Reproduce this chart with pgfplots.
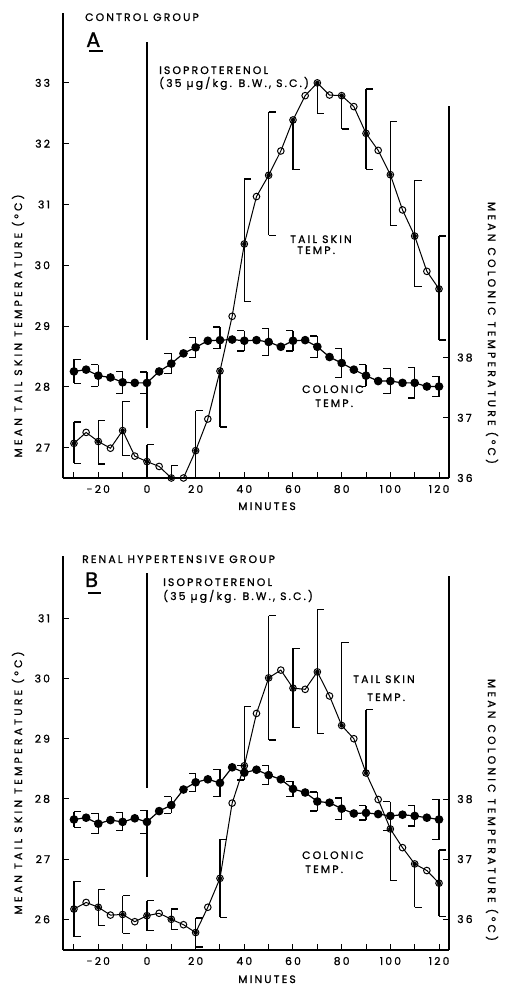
\documentclass[border=0pt]{standalone}
\usepackage{pgfplots}
\usepackage{pgfplotstable}
\pgfplotsset{compat=1.18}
\usepackage{fontspec}
\setmainfont{Poppins}
\newfontfamily\lf[LetterSpace=20, FakeBold=1]{Poppins}
\newfontfamily\lfw[LetterSpace=30, FakeBold=1]{Poppins}
\newcommand\tf{\lf\fontsize{10.8}{12}\selectfont}
\newcommand\tfw{\lfw\fontsize{10.8}{12}\selectfont}

% ---- data: x, value
\pgfplotstableread{
x y
-30 27.07
-25 27.25
-20 27.10
-15 26.99
-10 27.28
-5 26.86
0 26.77
5 26.69
10 26.50
15 26.50
20 26.95
25 27.47
30 28.26
35 29.16
40 30.35
45 31.13
50 31.48
55 31.88
60 32.39
65 32.79
70 33.00
75 32.80
80 32.79
85 32.61
90 32.17
95 31.89
100 31.49
105 30.91
110 30.48
115 29.90
120 29.61
}\tailA
\pgfplotstableread{
x y ep em
-30 27.07 0.35 0.33
-20 27.10 0.34 0.37
-10 27.28 0.48 0.41
0 26.77 0.28 0.27
10 26.50 0.21 0
20 26.95 0.66 0.45
30 28.26 0 0.92
40 30.35 1.07 0.95
50 31.48 1.04 0.99
60 32.39 0 0.82
70 33.00 0 0.51
80 32.79 0 0.55
90 32.17 0.73 0.59
100 31.49 0.87 0.83
110 30.48 0.92 0.83
120 29.61 0.87 0.84
}\tailAe
\pgfplotstableread{
x y
-30 37.77
-25 37.80
-20 37.70
-15 37.67
-10 37.59
-5 37.58
0 37.58
5 37.77
10 37.90
15 38.07
20 38.17
25 38.28
30 38.29
35 38.30
40 38.28
45 38.29
50 38.26
55 38.18
60 38.28
65 38.29
70 38.18
75 38.01
80 37.91
85 37.80
90 37.70
95 37.61
100 37.61
105 37.58
110 37.58
115 37.52
120 37.52
}\colA
\pgfplotstableread{
x y ep em
-20 37.70 0.18 0.18
-10 37.59 0.18 0.18
0 37.58 0.18 0.18
10 37.90 0.17 0.17
20 38.17 0.17 0.17
30 38.29 0.22 0.14
40 38.28 0.17 0.17
50 38.26 0.23 0.23
60 38.28 0.17 0.17
70 38.18 0.18 0.18
80 37.91 0.24 0.24
90 37.70 0.18 0.18
100 37.61 0.21 0.21
110 37.58 0.25 0.25
120 37.52 0.17 0.17
}\colAe
\pgfplotstableread{
x y ep em
-30 37.77 0.20 0.20
}\colAeR
\pgfplotstableread{
x y
-30 26.17
-25 26.28
-20 26.20
-15 26.07
-10 26.08
-5 25.96
0 26.06
5 26.10
10 26.00
15 25.91
20 25.78
25 26.20
30 26.68
35 27.93
40 28.55
45 29.42
50 30.01
55 30.14
60 29.84
65 29.82
70 30.11
75 29.71
80 29.22
85 29.00
90 28.43
95 27.99
100 27.50
105 27.19
110 26.92
115 26.81
120 26.60
}\tailB
\pgfplotstableread{
x y ep em
-30 26.17 0.46 0.46
-20 26.20 0.30 0.30
-10 26.08 0.31 0.31
0 26.06 0.25 0.25
10 26.00 0.17 0.17
20 25.78 0.24 0.24
30 26.68 0.65 0.65
40 28.55 0.98 0
50 30.01 1.03 1.03
60 29.84 0.66 0.66
70 30.11 1.03 1.03
80 29.22 1.38 0
90 28.43 1.05 0
100 27.50 0 0.85
110 26.92 0 0.72
120 26.60 0.55 0.55
}\tailBe
\pgfplotstableread{
x y
-30 37.66
-25 37.69
-20 37.59
-15 37.65
-10 37.62
-5 37.68
0 37.62
5 37.80
10 37.90
15 38.16
20 38.28
25 38.33
30 38.27
35 38.53
40 38.44
45 38.49
50 38.40
55 38.33
60 38.17
65 38.11
70 37.96
75 37.94
80 37.84
85 37.76
90 37.77
95 37.75
100 37.72
105 37.74
110 37.72
115 37.69
120 37.66
}\colB
\pgfplotstableread{
x y ep em
-20 37.59 0.17 0.17
-10 37.62 0.15 0.15
0 37.62 0.19 0.19
10 37.90 0.14 0.14
20 38.28 0.15 0.15
30 38.27 0.23 0.23
40 38.44 0.12 0.12
50 38.40 0.16 0.16
60 38.17 0.13 0.13
70 37.96 0.16 0.16
80 37.84 0.18 0.18
90 37.77 0.12 0.12
100 37.72 0.24 0.24
110 37.72 0.17 0.17
120 37.66 0.34 0.34
}\colBe
\pgfplotstableread{
x y ep em
-30 37.66 0.13 0.13
}\colBeR

\pgfplotsset{
  base/.style={scale only axis, width=386pt, xmin=-34.5, xmax=124.1, clip=false,
    axis line style={-, line width=1.2pt}, tick style={line width=1pt, black},
    major tick length=6pt, minor tick length=6pt, tick align=inside,
    ticklabel style={font=\tf}},
  tail/.style={black, line width=1pt, mark=o, mark size=3.3pt, mark options={fill=white, line width=1pt}},
  colo/.style={black, line width=1.2pt, mark=*, mark size=3.7pt},
  vbar/.style={only marks, mark=none, forget plot, error bars/.cd, y dir=both, y explicit, error mark=none,
    error bar style={line width=1.2pt, black}},
  cap/.style={black, line width=1.2pt, mark=none, forget plot, quiver={u=#1, v=0}},
  inj/.style={black, line width=1.2pt, no marks, forget plot},
}
% draws the bracket error bars of table #1, caps pointing by #2 (minutes)
\newcommand\brackets[2]{%
  \addplot[vbar] table[x=x, y=y, y error plus=ep, y error minus=em] {#1};
  \addplot[cap=#2, restrict expr to domain={\thisrow{ep}}{0.001:100}] table[x=x, y expr=\thisrow{y}+\thisrow{ep}] {#1};
  \addplot[cap=#2, restrict expr to domain={\thisrow{em}}{0.001:100}] table[x=x, y expr=\thisrow{y}-\thisrow{em}] {#1};
}
\begin{document}
\begin{tikzpicture}
\useasboundingbox (0,0) rectangle (506pt,986pt);
%%%%%%%%%%%%%%%% PANEL A
\begin{axis}[base, at={(63pt,508pt)}, anchor=south west, height=465pt,
  ymin=26.5, ymax=34.15, axis x line*=bottom, axis y line*=left,
  xtick={-20,0,...,120}, minor xtick={-30,-10,...,110},
  xticklabels={-20,0,20,40,60,80,100,120},
  ytick={27,...,33}, yticklabels={27,28,29,30,31,32,33},
  xticklabel style={yshift=-3.5pt}, yticklabel style={xshift=-9.5pt}]
\addplot[inj] coordinates {(0,33.67) (0,28.77)};
\addplot[inj] coordinates {(0,27.90) (0,27.33)};
\brackets{\tailAe}{2.88}
\addplot[tail] table[x=x,y=y] {\tailA};
\end{axis}
\begin{axis}[base, at={(63pt,508pt)}, anchor=south west, height=372pt,
  ymin=36, ymax=42.18, axis x line=none, axis y line*=right, xtick=\empty,
  ytick={36,37,38}, yticklabels={36,37,38}, yticklabel style={xshift=4.7pt}]
\brackets{\colAe}{-2.88}
\brackets{\colAeR}{2.88}
\addplot[colo] table[x=x,y=y] {\colA};
\end{axis}
%%%%%%%%%%%%%%%% PANEL B
\begin{axis}[base, at={(63pt,36pt)}, anchor=south west, height=394pt,
  ymin=25.49, ymax=32.035, axis x line*=bottom, axis y line*=left,
  xtick={-20,0,...,120}, minor xtick={-30,-10,...,110},
  xticklabels={-20,0,20,40,60,80,100,120},
  ytick={26,...,31}, yticklabels={26,27,28,29,30,31},
  xticklabel style={yshift=-3.5pt}, yticklabel style={xshift=-9.5pt}]
\addplot[inj] coordinates {(0,31.75) (0,28.18)};
\addplot[inj] coordinates {(0,27.57) (0,26.70)};
\brackets{\tailBe}{2.88}
\addplot[tail] table[x=x,y=y] {\tailB};
\end{axis}
\begin{axis}[base, at={(63pt,36pt)}, anchor=south west, height=374pt,
  ymin=35.484, ymax=41.72, axis x line=none, axis y line*=right, xtick=\empty,
  ytick={36,37,38}, yticklabels={36,37,38}, yticklabel style={xshift=4.7pt}]
\brackets{\colBe}{-2.88}
\brackets{\colBeR}{2.88}
\addplot[colo] table[x=x,y=y] {\colB};
\end{axis}
%%%%%%%%%%%%%%%% TEXT
\begin{scope}[every node/.style={inner sep=0pt, font=\tf}]
\node[anchor=base west] at (85pt,965pt) {CONTROL GROUP};
\node[anchor=base west, font=\lf\fontsize{21}{22}\selectfont] at (86pt,939pt) {A};
\draw[line width=1.4pt] (89pt,935pt) -- (103pt,935pt);
\node[anchor=base west] at (159pt,912pt) {ISOPROTERENOL};
\node[anchor=base west] at (159pt,899pt) {(35 µg/kg. B.W., S.C.)};
\node[anchor=base west] at (290pt,743pt) {TAIL SKIN};
\node[anchor=base west] at (297pt,732pt) {TEMP.};
\node[anchor=base west] at (302pt,593pt) {COLONIC};
\node[anchor=base west] at (315pt,579pt) {TEMP.};
\node[rotate=90, font=\tfw] at (18pt,660pt) {MEAN TAIL SKIN TEMPERATURE (°C)};
\node[rotate=-90, font=\tfw] at (492pt,653pt) {MEAN COLONIC TEMPERATURE (°C)};
\node[anchor=base] at (267pt,476pt) {MINUTES};
\node[anchor=base west] at (82pt,423pt) {RENAL HYPERTENSIVE GROUP};
\node[anchor=base west, font=\lf\fontsize{21}{22}\selectfont] at (85pt,399pt) {B};
\draw[line width=1.4pt] (88pt,393pt) -- (101pt,393pt);
\node[anchor=base west] at (163pt,400pt) {ISOPROTERENOL};
\node[anchor=base west] at (163pt,386pt) {(35 µg/kg. B.W., S.C.)};
\node[anchor=base west] at (353pt,303pt) {TAIL SKIN};
\node[anchor=base west] at (367pt,285pt) {TEMP.};
\node[anchor=base west] at (302pt,127pt) {COLONIC};
\node[anchor=base west] at (305pt,113pt) {TEMP.};
\node[rotate=90, font=\tfw] at (18pt,203pt) {MEAN TAIL SKIN TEMPERATURE (°C)};
\node[rotate=-90, font=\tfw] at (492pt,176pt) {MEAN COLONIC TEMPERATURE (°C)};
\node[anchor=base] at (267pt,3pt) {MINUTES};
\end{scope}
\end{tikzpicture}
\end{document}
